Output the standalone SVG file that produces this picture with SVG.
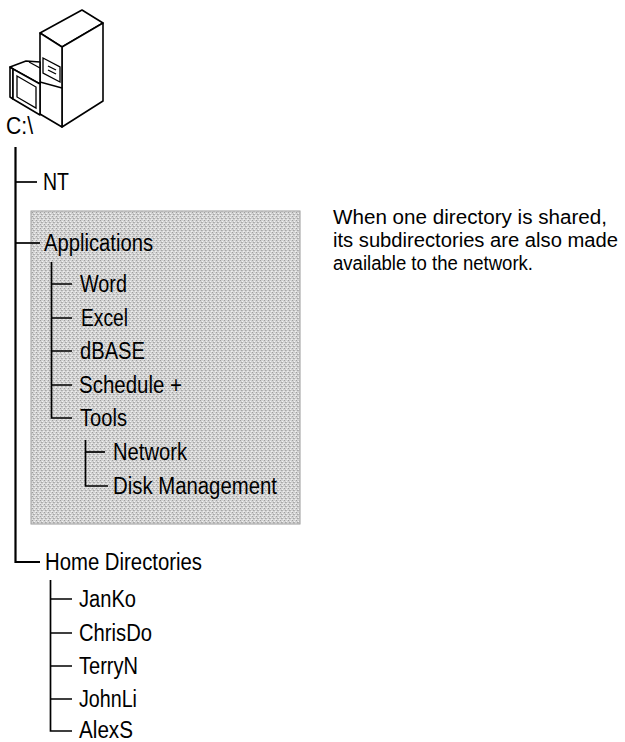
<svg xmlns="http://www.w3.org/2000/svg" width="625" height="742" viewBox="0 0 625 742">
  <style>
    .lbl { font-family: "Liberation Sans", Arial, sans-serif; font-size: 23px; fill: #000; }
    .note { font-family: "Liberation Sans", Arial, sans-serif; font-size: 20px; fill: #000; }
    .trunk { fill: none; stroke: #000; stroke-width: 2.2; }
    .tick { fill: none; stroke: #000; stroke-width: 1.7; }
    .pc { fill: #fff; stroke: #000; stroke-width: 1.6; stroke-linejoin: round; }
    .pcl { fill: none; stroke: #000; stroke-width: 1.3; }
  </style>
  <defs>
    <!-- halftone-style grey used for the shared area -->
    <pattern id="dither" width="4" height="4" patternUnits="userSpaceOnUse">
      <rect width="4" height="4" fill="#d2d2d2"/>
      <rect x="0" y="0" width="1" height="1" fill="#9e9e9e"/>
      <rect x="2" y="1" width="1" height="1" fill="#f2f2f2"/>
      <rect x="1" y="2" width="1" height="1" fill="#a6a6a6"/>
      <rect x="3" y="3" width="1" height="1" fill="#eeeeee"/>
      <rect x="2" y="2" width="1" height="1" fill="#b4b4b4"/>
      <rect x="0" y="3" width="1" height="1" fill="#e6e6e6"/>
    </pattern>
  </defs>

  <rect id="shared-area" x="31" y="211" width="269" height="313" fill="url(#dither)" stroke="#9a9a9a" stroke-width="1"/>

  <!-- computer icon -->
  <g id="computer">
    <!-- tower -->
    <polygon class="pc" points="40,33 82,10 103,23 62,47"/>
    <polygon class="pc" points="62,47 103,23 103,101 62,127"/>
    <polygon class="pc" points="40,33 62,47 62,127 40,114"/>
    <polygon class="pcl" points="43,58 60,67 60,82 43,73"/>
    <line class="pcl" x1="48" y1="66" x2="56" y2="70"/>
    <line class="pcl" x1="48" y1="70" x2="56" y2="74"/>
    <line class="pcl" x1="40" y1="82" x2="62" y2="88"/>
    <!-- monitor -->
    <polygon class="pc" points="10,67 26,61 40,62 40,84 13,69"/>
    <line class="pcl" x1="29" y1="62" x2="40" y2="68"/>
    <polygon class="pc" points="10,67 13,69 13,99 10,97"/>
    <polygon class="pc" points="13,69 40,84 40,115 13,99"/>
    <polygon class="pcl" points="17,76 36,87 36,108 17,97"/>
  </g>

  <!-- connectors of the directory tree -->
  <g id="connectors">
    <path class="trunk" d="M15.5 147 V562 H40"/>
    <path class="tick" d="M15.5 182 H37"/>
    <path class="tick" d="M15.5 243 H40"/>
    <path class="tick" d="M51.5 262 V418 H72"/>
    <path class="tick" d="M51.5 284 H72 M51.5 318 H72 M51.5 351 H72 M51.5 385 H72"/>
    <path class="tick" d="M85.5 440 V486 H108"/>
    <path class="tick" d="M85.5 452 H105"/>
    <path class="tick" d="M50.5 580 V731 H72"/>
    <path class="tick" d="M50.5 599 H72 M50.5 633 H72 M50.5 666 H72 M50.5 699 H72"/>
  </g>

  <g id="root"><text class="lbl" x="6" y="134" textLength="27" lengthAdjust="spacingAndGlyphs">C:\</text></g>
  <g id="nt"><text class="lbl" x="43" y="190" textLength="26" lengthAdjust="spacingAndGlyphs">NT</text></g>
  <g id="applications"><text class="lbl" x="44" y="251" textLength="109" lengthAdjust="spacingAndGlyphs">Applications</text></g>
  <g id="word"><text class="lbl" x="80" y="292" textLength="47" lengthAdjust="spacingAndGlyphs">Word</text></g>
  <g id="excel"><text class="lbl" x="81" y="326" textLength="47" lengthAdjust="spacingAndGlyphs">Excel</text></g>
  <g id="dbase"><text class="lbl" x="80" y="359" textLength="65" lengthAdjust="spacingAndGlyphs">dBASE</text></g>
  <g id="schedule"><text class="lbl" x="79" y="393" textLength="103" lengthAdjust="spacingAndGlyphs">Schedule +</text></g>
  <g id="tools"><text class="lbl" x="80" y="426" textLength="47" lengthAdjust="spacingAndGlyphs">Tools</text></g>
  <g id="network"><text class="lbl" x="113" y="460" textLength="74" lengthAdjust="spacingAndGlyphs">Network</text></g>
  <g id="disk-management"><text class="lbl" x="113" y="494" textLength="164" lengthAdjust="spacingAndGlyphs">Disk Management</text></g>
  <g id="home-directories"><text class="lbl" x="45" y="570" textLength="157" lengthAdjust="spacingAndGlyphs">Home Directories</text></g>
  <g id="janko"><text class="lbl" x="79" y="607" textLength="57" lengthAdjust="spacingAndGlyphs">JanKo</text></g>
  <g id="chrisdo"><text class="lbl" x="79" y="641" textLength="73" lengthAdjust="spacingAndGlyphs">ChrisDo</text></g>
  <g id="terryn"><text class="lbl" x="79" y="674" textLength="59" lengthAdjust="spacingAndGlyphs">TerryN</text></g>
  <g id="johnli"><text class="lbl" x="79" y="707" textLength="58" lengthAdjust="spacingAndGlyphs">JohnLi</text></g>
  <g id="alexs"><text class="lbl" x="79" y="738" textLength="54" lengthAdjust="spacingAndGlyphs">AlexS</text></g>

  <g id="note">
    <text class="note" x="333" y="224" textLength="274" lengthAdjust="spacingAndGlyphs">When one directory is shared,</text>
    <text class="note" x="333" y="247" textLength="285" lengthAdjust="spacingAndGlyphs">its subdirectories are also made</text>
    <text class="note" x="333" y="270" textLength="200" lengthAdjust="spacingAndGlyphs">available to the network.</text>
  </g>
</svg>
